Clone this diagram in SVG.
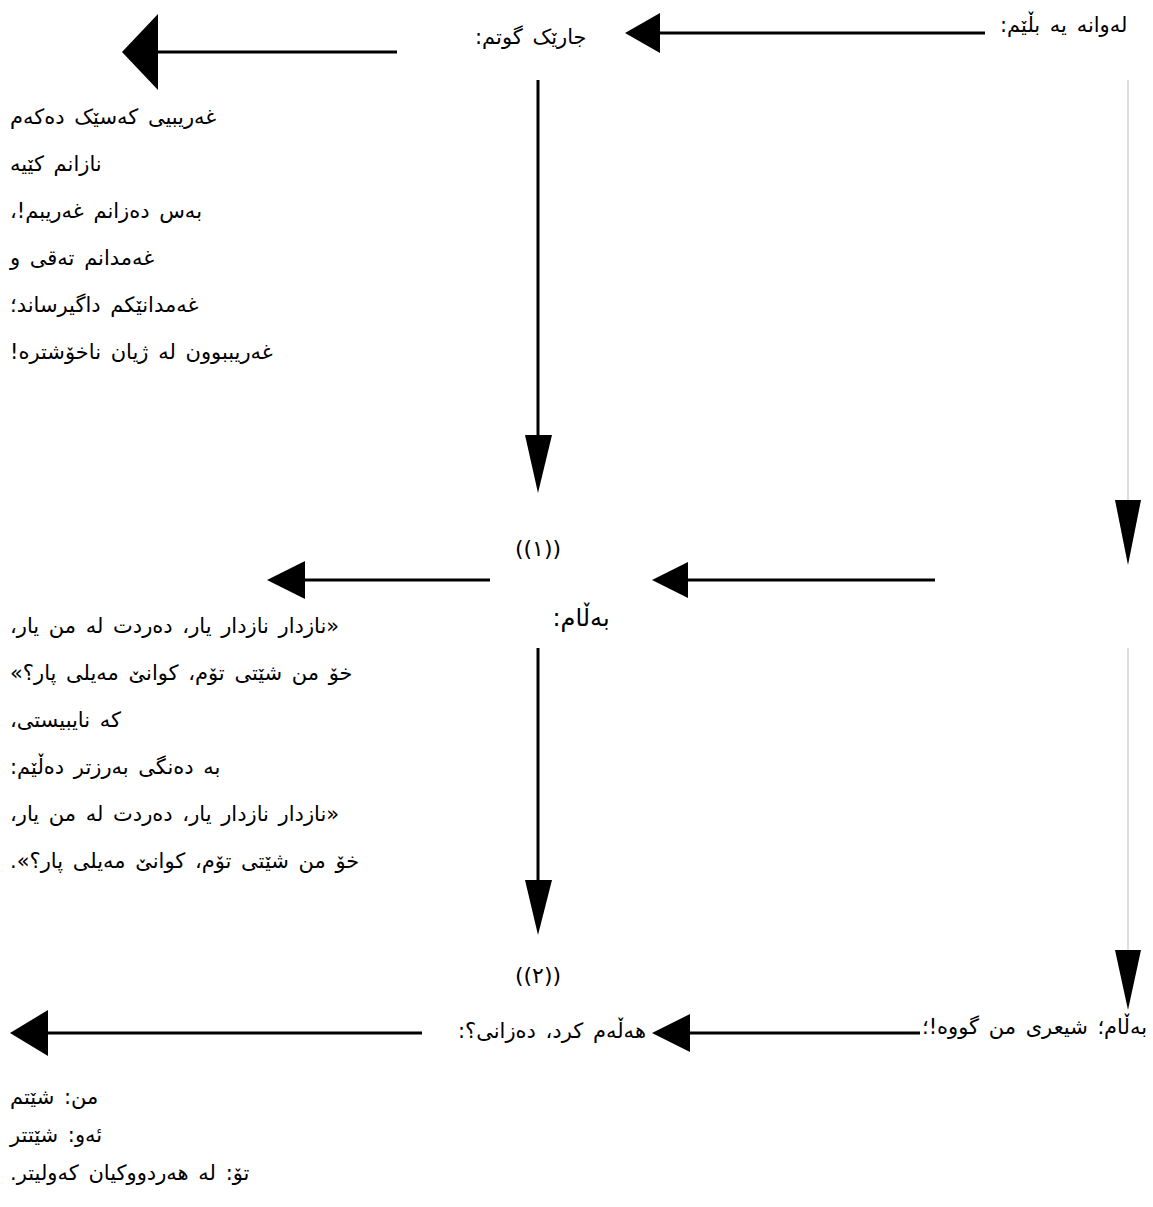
<svg xmlns="http://www.w3.org/2000/svg" width="1153" height="1207" viewBox="0 0 1153 1207">
<style>
  text { font-family: "DejaVu Sans", "Noto Sans", sans-serif; font-size: 21px; fill: #000; word-spacing: 3px; }
  text.big { font-size: 24px; }
  text.num { font-size: 22px; }
  .ln { stroke: #000; stroke-width: 3; fill: none; }
  .gl { stroke: #bdbdbd; stroke-width: 1; fill: none; }
  .hd { fill: #000; stroke: none; }
</style>
<rect width="1153" height="1207" fill="#fff"/>
<g id="connectors">
  <line class="ln" x1="397" y1="52" x2="157" y2="52"/>
  <polygon class="hd" points="122,52 158,14 158,90"/>
  <line class="ln" x1="985" y1="33" x2="659" y2="33"/>
  <polygon class="hd" points="625,33 660,13 660,53"/>
  <line class="ln" x1="538" y1="80" x2="538" y2="436"/>
  <polygon class="hd" points="538,493 525,435 552,435"/>
  <line class="gl" x1="1128" y1="80" x2="1128" y2="501"/>
  <polygon class="hd" points="1128,565 1115,500 1141,500"/>
  <line class="ln" x1="935" y1="580" x2="687" y2="580"/>
  <polygon class="hd" points="652,580 688,562 688,598"/>
  <line class="ln" x1="490" y1="580" x2="304" y2="580"/>
  <polygon class="hd" points="267,580 305,561 305,599"/>
  <line class="ln" x1="538" y1="648" x2="538" y2="881"/>
  <polygon class="hd" points="538,935 525,880 552,880"/>
  <line class="gl" x1="1128" y1="648" x2="1128" y2="951"/>
  <polygon class="hd" points="1128,1010 1115,950 1141,950"/>
  <line class="ln" x1="920" y1="1033" x2="689" y2="1033"/>
  <polygon class="hd" points="652,1033 690,1014 690,1052"/>
  <line class="ln" x1="422" y1="1033" x2="47" y2="1033"/>
  <polygon class="hd" points="10,1033 48,1010 48,1056"/>
</g>
<g id="n-lawanaya" direction="rtl" text-anchor="end">
  <text x="1000" y="32">لەوانە یە بڵێم:</text>
</g>
<g id="n-jarek" direction="rtl" text-anchor="end">
  <text x="475" y="44">جارێک گوتم:</text>
</g>
<g id="n-block1" direction="rtl" text-anchor="end">
  <text x="10" y="124">غەریبیی کەسێک دەکەم</text>
  <text x="10" y="171">نازانم کێیە</text>
  <text x="10" y="218">بەس دەزانم غەریبم!،</text>
  <text x="10" y="265">غەمدانم تەقی و</text>
  <text x="10" y="312">غەمدانێکم داگیرساند؛</text>
  <text x="10" y="359">غەریببوون لە ژیان ناخۆشترە!</text>
</g>
<g id="n-one">
  <text class="num" x="538" y="556" text-anchor="middle">((١))</text>
</g>
<g id="n-balam" direction="rtl" text-anchor="middle">
  <text class="big" x="581" y="626">بەڵام:</text>
</g>
<g id="n-block2" direction="rtl" text-anchor="end">
  <text x="10" y="633">«نازدار نازدار یار، دەردت لە من یار،</text>
  <text x="10" y="680">خۆ من شێتی تۆم، کوانێ مەیلی پار؟»</text>
  <text x="10" y="727">کە نایبیستی،</text>
  <text x="10" y="774">بە دەنگی بەرزتر دەڵێم:</text>
  <text x="10" y="821">«نازدار نازدار یار، دەردت لە من یار،</text>
  <text x="10" y="868">خۆ من شێتی تۆم، کوانێ مەیلی پار؟».</text>
</g>
<g id="n-two">
  <text class="num" x="538" y="983" text-anchor="middle">((٢))</text>
</g>
<g id="n-shiri" direction="rtl" text-anchor="end">
  <text x="922" y="1034">بەڵام؛ شیعری من گووە!؛</text>
</g>
<g id="n-halam" direction="rtl" text-anchor="end">
  <text x="458" y="1038">هەڵەم کرد، دەزانی؟:</text>
</g>
<g id="n-block3" direction="rtl" text-anchor="end">
  <text x="10" y="1104">من: شێتم</text>
  <text x="10" y="1142">ئەو: شێتتر</text>
  <text x="10" y="1180">تۆ: لە هەردووکیان کەولیتر.</text>
</g>
</svg>
